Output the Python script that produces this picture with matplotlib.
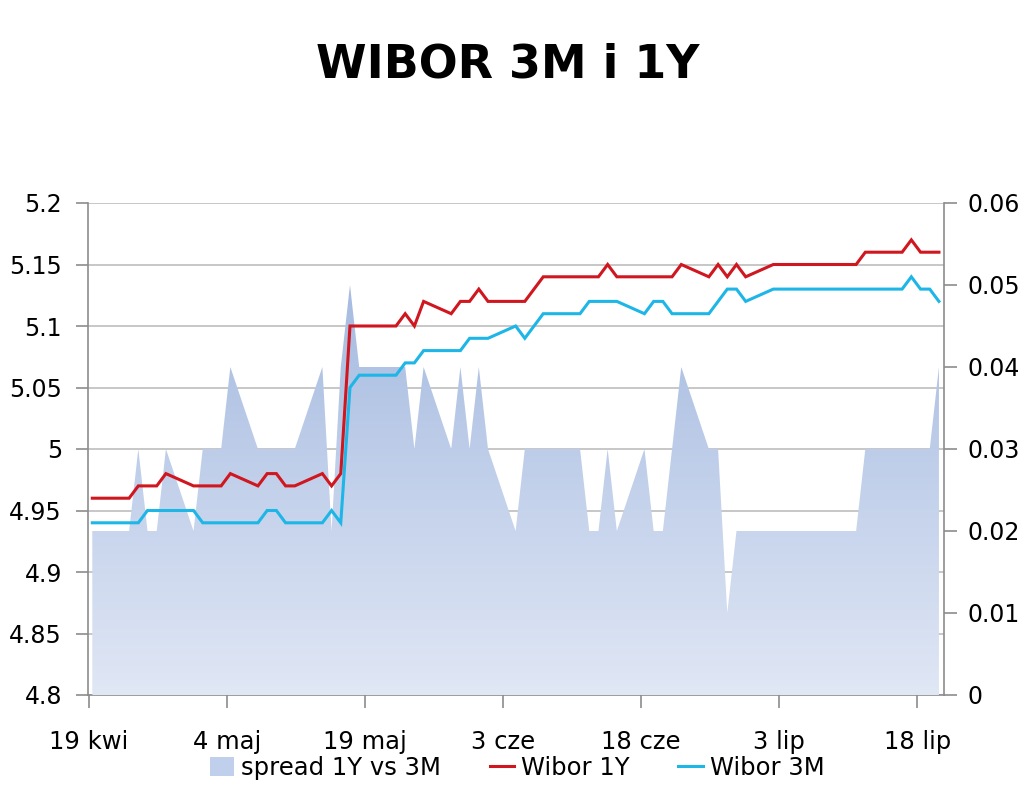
import numpy as np
import pandas as pd
import matplotlib
matplotlib.use('Agg')
import matplotlib.pyplot as plt
import matplotlib.dates as mdates
from matplotlib.patches import Patch
from matplotlib.lines import Line2D
from matplotlib.colors import LinearSegmentedColormap

# ---------------- data ----------------
dates = pd.bdate_range('2012-04-19', '2012-07-20')  # business days

wibor_1y = [4.96, 4.96,
            4.96, 4.97, 4.97, 4.97, 4.98,
            4.97, 4.97, 4.97, 4.97, 4.98,
            4.97, 4.98, 4.98, 4.97, 4.97,
            4.98, 4.97, 4.98, 5.10, 5.10,
            5.10, 5.10, 5.11, 5.10, 5.12,
            5.11, 5.12, 5.12, 5.13, 5.12,
            5.12, 5.12, 5.13, 5.14, 5.14,
            5.14, 5.14, 5.14, 5.15, 5.14,
            5.14, 5.14, 5.14, 5.14, 5.15,
            5.14, 5.15, 5.14, 5.15, 5.14,
            5.15, 5.15, 5.15, 5.15, 5.15,
            5.15, 5.15, 5.15, 5.16, 5.16,
            5.16, 5.17, 5.16, 5.16, 5.16]

wibor_3m = [4.94, 4.94,
            4.94, 4.94, 4.95, 4.95, 4.95,
            4.95, 4.94, 4.94, 4.94, 4.94,
            4.94, 4.95, 4.95, 4.94, 4.94,
            4.94, 4.95, 4.94, 5.05, 5.06,
            5.06, 5.06, 5.07, 5.07, 5.08,
            5.08, 5.08, 5.09, 5.09, 5.09,
            5.10, 5.09, 5.10, 5.11, 5.11,
            5.11, 5.12, 5.12, 5.12, 5.12,
            5.11, 5.12, 5.12, 5.11, 5.11,
            5.11, 5.12, 5.13, 5.13, 5.12,
            5.13, 5.13, 5.13, 5.13, 5.13,
            5.13, 5.13, 5.13, 5.13, 5.13,
            5.13, 5.14, 5.13, 5.13, 5.12]

spread = np.round(np.array(wibor_1y) - np.array(wibor_3m), 2)

tick_dates = pd.to_datetime(['2012-04-19', '2012-05-04', '2012-05-19', '2012-06-03',
                             '2012-06-18', '2012-07-03', '2012-07-18'])
tick_labels = ['19 kwi', '4 maj', '19 maj', '3 cze', '18 cze', '3 lip', '18 lip']

left_ticks = [4.8, 4.85, 4.9, 4.95, 5.0, 5.05, 5.1, 5.15, 5.2]
left_labels = ['4.8', '4.85', '4.9', '4.95', '5', '5.05', '5.1', '5.15', '5.2']
right_ticks = [0, 0.01, 0.02, 0.03, 0.04, 0.05, 0.06]
right_labels = ['0', '0.01', '0.02', '0.03', '0.04', '0.05', '0.06']

title = 'WIBOR 3M i 1Y'
labels = ['spread 1Y vs 3M', 'Wibor 1Y', 'Wibor 3M']

# ---------------- style ----------------
plt.rcParams['font.family'] = ['DejaVu Sans']
RED = '#D0161E'
CYAN = '#1DB6E6'
GRID = '#BEBEBE'
SPINE = '#8C8C8C'
FS = 17.5
TFS = 17

x = mdates.date2num(dates)
xlo = x[0] - 0.435
xhi = x[-1] + 0.55

fig = plt.figure(figsize=(10.24, 7.91), dpi=100)
rect = [88.3 / 1024, 1 - 695 / 791, (944 - 88.3) / 1024, (695 - 203) / 791]

ax = fig.add_axes(rect)
ax2 = ax.twinx()
ax3 = ax.twinx()

# grid axis (left scale)
ax.set_xlim(xlo, xhi)
ax.set_ylim(4.8, 5.2)
ax.set_yticks(left_ticks)
ax.set_yticklabels(left_labels, fontsize=TFS)
ax.yaxis.grid(True, color=GRID, linewidth=1.2)
ax.set_axisbelow(True)
ax.set_xticks(mdates.date2num(tick_dates) - 0.36)
ax.set_xticklabels(tick_labels, fontsize=FS)
ax.tick_params(axis='y', direction='out', length=9, width=1.2, color=SPINE, pad=10)
ax.tick_params(axis='x', direction='out', length=9, width=1.2, color=SPINE, pad=16)
for s in ['top', 'right']:
    ax.spines[s].set_visible(False)
for s in ['left', 'bottom']:
    ax.spines[s].set_color(SPINE)
    ax.spines[s].set_linewidth(1.2)

# area (right scale) with vertical gradient
ax2.set_xlim(xlo, xhi)
ax2.set_ylim(0, 0.06)
coll = ax2.fill_between(x, 0, spread, facecolor='none', edgecolor='none', linewidth=0)
cmap = LinearSegmentedColormap.from_list('g', ['#E0E7F5', '#9AB2DC'])
grad = np.linspace(0, 1, 256).reshape(-1, 1)
img = ax2.imshow(grad, extent=[xlo, xhi, 0, 0.06], origin='lower', aspect='auto',
                 cmap=cmap, interpolation='bicubic', zorder=1)
img.set_clip_path(coll.get_paths()[0], transform=ax2.transData)
ax2.set_xlim(xlo, xhi)
ax2.set_ylim(0, 0.06)
ax2.set_yticks(right_ticks)
ax2.set_yticklabels(right_labels, fontsize=TFS)
ax2.tick_params(axis='y', direction='out', length=9, width=1.2, color=SPINE, pad=8)
for s in ['top', 'left', 'bottom']:
    ax2.spines[s].set_visible(False)
ax2.spines['right'].set_color(SPINE)
ax2.spines['right'].set_linewidth(1.2)

# lines (left scale)
ax3.set_xlim(xlo, xhi)
ax3.set_ylim(4.8, 5.2)
ax3.plot(x, wibor_1y, color=RED, linewidth=2.2, solid_joinstyle='miter', zorder=3)
ax3.plot(x, wibor_3m, color=CYAN, linewidth=2.2, solid_joinstyle='miter', zorder=3)
ax3.set_yticks([])
ax3.tick_params(axis='both', which='both', length=0)
for s in ax3.spines.values():
    s.set_visible(False)
ax3.set_xlim(xlo, xhi)

fig.text(0.496, 1 - 77.3 / 791, title, ha='center', va='baseline',
         fontsize=33, fontweight='bold')

handles = [Patch(facecolor='#BFCFEC', edgecolor='none'),
           Line2D([], [], color=RED, linewidth=2.2),
           Line2D([], [], color=CYAN, linewidth=2.2)]
fig.legend(handles, labels, loc='center', bbox_to_anchor=(0.505, 1 - 768 / 791),
           ncol=3, frameon=False, fontsize=FS, handlelength=1.0, handleheight=0.8,
           handletextpad=0.3, columnspacing=2.0, borderpad=0, borderaxespad=0)

fig.savefig('out.png', dpi=100)
